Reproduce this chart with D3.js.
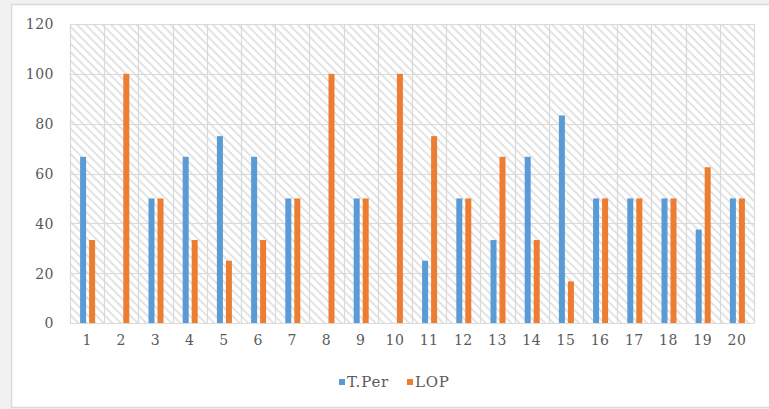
<!DOCTYPE html>
<html><head><meta charset="utf-8">
<script src="https://cdn.jsdelivr.net/npm/d3@7"></script>
<style>html,body{margin:0;padding:0;background:#f1f1f1;}svg{display:block;}</style>
</head><body>
<svg id="chart" width="769" height="409"></svg>
<script>
const categories = ["1","2","3","4","5","6","7","8","9","10","11","12","13","14","15","16","17","18","19","20"];
const seriesNames = ["T.Per","LOP"];
const tPer = [66.7,0,50,66.7,75,66.7,50,0,50,0,25,50,33.3,66.7,83.3,50,50,50,37.5,50];
const lop  = [33.3,100,50,33.3,25,33.3,50,100,50,100,75,50,66.7,33.3,16.7,50,50,50,62.5,50];
const yTicks = [0,20,40,60,80,100,120];
const colors = ["#5B9BD5","#ED7D31"];

const svg = d3.select("#chart");
const L = 70, R = 754, T = 24, B = 323;
const font = "'DejaVu Serif', serif";

svg.append("rect").attr("x",11.5).attr("y",4.5).attr("width",770).attr("height",403)
  .attr("fill","#fff").attr("stroke","#d9d9d9").attr("stroke-width",1.5);

const defs = svg.append("defs");
const pat = defs.append("pattern").attr("id","hatch").attr("patternUnits","userSpaceOnUse")
  .attr("width",6).attr("height",6).attr("patternTransform","rotate(-45)");
pat.append("rect").attr("width",6).attr("height",6).attr("fill","#fff");
pat.append("line").attr("x1",1).attr("y1",0).attr("x2",1).attr("y2",6)
  .attr("stroke","#dcdcdc").attr("stroke-width",1.6);

const x0 = d3.scaleBand().domain(categories).range([L,R]).padding(0);
const x1 = d3.scaleBand().domain(seriesNames).range([-7,8]).paddingInner(1/3).paddingOuter(0);
const y = d3.scaleLinear().domain([0,120]).range([B,T]);

svg.append("rect").attr("x",L).attr("y",T).attr("width",R-L).attr("height",B-T).attr("fill","url(#hatch)");

// gridlines
const g = svg.append("g");
g.selectAll("line.h").data(yTicks).join("line")
  .attr("x1",L).attr("x2",R).attr("y1",d=>Math.round(y(d))+0.5).attr("y2",d=>Math.round(y(d))+0.5)
  .attr("stroke","#d9d9d9").attr("stroke-width",1.2);
const bounds = categories.map(c=>x0(c)).concat([R]);
g.selectAll("line.v").data(bounds).join("line")
  .attr("x1",d=>Math.round(d)+0.5).attr("x2",d=>Math.round(d)+0.5).attr("y1",T).attr("y2",B)
  .attr("stroke","#d9d9d9").attr("stroke-width",1.2);

// bars
const data = [tPer, lop];
seriesNames.forEach((s,i)=>{
  svg.append("g").selectAll("rect").data(categories).join("rect")
    .attr("x",(c)=>x0(c)+x0.bandwidth()/2 + x1(s))
    .attr("width",x1.bandwidth())
    .attr("y",(c,j)=>y(data[i][j]))
    .attr("height",(c,j)=>B-y(data[i][j]))
    .attr("fill",colors[i]);
});

// y axis labels
const yAxis = d3.axisLeft(y).tickValues(yTicks).tickSize(0).tickPadding(0);
const ya = svg.append("g").attr("transform",`translate(${L-16},0)`).call(yAxis);
ya.select(".domain").remove();
ya.selectAll("text").attr("font-family",font).attr("font-size",14).attr("fill","#595959")
  .attr("letter-spacing","0.5px").attr("dy","0.35em");

// x axis
const xAxis = d3.axisBottom(x0).tickSize(0).tickPadding(0);
const xa = svg.append("g").attr("transform",`translate(0,${B+16})`).call(xAxis);
xa.select(".domain").remove();
xa.selectAll("text").attr("font-family",font).attr("font-size",14).attr("fill","#595959")
  .attr("letter-spacing","0.5px").attr("dy","0.45em");

// legend
const leg = svg.append("g");
const legX = [339, 407];
seriesNames.forEach((s,i)=>{
  leg.append("rect").attr("x",legX[i]).attr("y",379).attr("width",6).attr("height",6).attr("fill",colors[i]);
  leg.append("text").attr("x",legX[i]+8).attr("y",382).attr("dy","0.35em")
    .attr("font-family",font).attr("font-size",15).attr("fill","#595959").attr("letter-spacing","0.8px").text(s);
});
</script>
</body></html>
